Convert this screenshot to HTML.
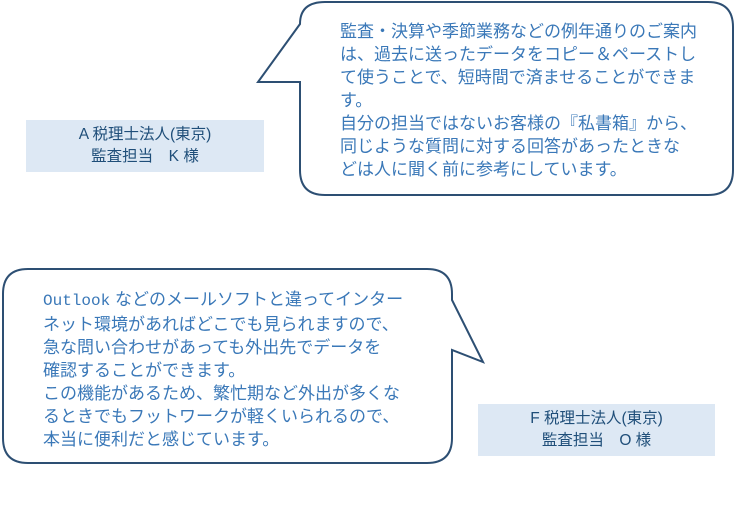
<!DOCTYPE html>
<html><head><meta charset="utf-8"><style>
body{margin:0;width:736px;height:511px;background:#fff;position:relative;overflow:hidden;font-family:"Liberation Sans","Noto Sans CJK JP",sans-serif}
.t{position:absolute;color:#3a78b8;font-size:17px;line-height:23px;white-space:nowrap}
.lab{position:absolute;background:#dde8f4;color:#1f4e79;font-size:15.5px;line-height:22px;text-align:center;padding-top:4px;box-sizing:border-box}
</style></head><body>
<svg width="736" height="511" style="position:absolute;left:0;top:0">
<path d="M325 2 H708 Q733 2 733 27 V170 Q733 195 708 195 H325 Q300 195 300 170 V82 H258 L300 24 Q300 2 325 2 Z" fill="#fff" stroke="#2d4f73" stroke-width="2"/>
<path d="M28 269 H427 Q452 269 452 294 V300 L483 362 L452 350 V438 Q452 463 427 463 H28 Q3 463 3 438 V294 Q3 269 28 269 Z" fill="#fff" stroke="#2d4f73" stroke-width="2"/>
</svg>
<div class="lab" style="left:26px;top:120px;width:238px;height:52px">A 税理士法人(東京)<br>監査担当　K 様</div>
<div class="lab" style="left:478px;top:404px;width:237px;height:52px">F 税理士法人(東京)<br>監査担当　O 様</div>
<div class="t" style="left:340px;top:20px">監査・決算や季節業務などの例年通りのご案内<br>は、過去に送ったデータをコピー＆ペーストし<br>て使うことで、短時間で済ませることができま<br>す。<br>自分の担当ではないお客様の『私書箱』から、<br>同じような質問に対する回答があったときな<br>どは人に聞く前に参考にしています。</div>
<div class="t" style="left:43px;top:288px"><span style="font-family:'Liberation Mono',monospace;font-size:16px">Outlook</span> などのメールソフトと違ってインター<br>ネット環境があればどこでも見られますので、<br>急な問い合わせがあっても外出先でデータを<br>確認することができます。<br>この機能があるため、繁忙期など外出が多くな<br>るときでもフットワークが軽くいられるので、<br>本当に便利だと感じています。</div>
</body></html>
